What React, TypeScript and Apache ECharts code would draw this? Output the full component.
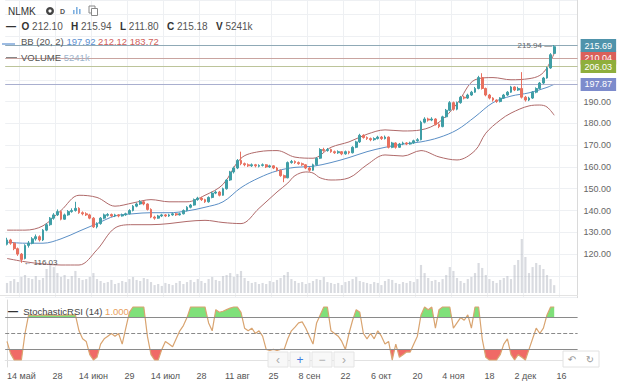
import React, { useEffect, useRef } from "react";
import * as echarts from "echarts";

// ---------- DATA ----------
// candles: [open, close, low, high]
const ohlc: number[][] = [
  [124.5, 126.5, 124, 127.5], [126.5, 125, 124.3, 127], [125, 122.5, 121.8, 125.5], [122.5, 120, 119.2, 123],
  [120, 117.5, 116.03, 120.5], [118, 124, 117.6, 124.5], [124, 125, 123, 126], [125, 127, 124.5, 127.8],
  [127, 128, 126.2, 129], [128, 126.5, 125.8, 128.6], [126.5, 131, 126, 131.5], [131, 133.5, 130.5, 134.2],
  [133.5, 136.5, 133, 137], [136.5, 138, 135.8, 138.8], [138, 139.5, 137.5, 140.5], [139.5, 136, 135.5, 140],
  [136, 138, 135.8, 138.6], [138, 139.5, 137.6, 140.2], [139.5, 140, 139, 141], [140, 141, 139.5, 144],
  [141, 139, 138.5, 141.5], [139, 138.5, 137.8, 139.6], [138.5, 138, 137.5, 139.2], [138, 136.5, 136, 138.5],
  [136.5, 132.5, 132, 137], [132.5, 134, 131.8, 134.6], [134, 136.5, 133.5, 137], [136.5, 138, 136, 138.6],
  [137.8, 138.2, 137.2, 138.8], [138.2, 137.5, 137, 138.6], [137.5, 138, 137, 138.5], [138, 137.5, 136.9, 138.4],
  [137.5, 138, 137.2, 138.6], [138, 138.5, 137.6, 139], [138.5, 140, 138.2, 140.6], [140, 142, 139.6, 142.5],
  [142, 143, 141.5, 143.6], [143, 144, 142.6, 144.8], [144, 143, 142.4, 144.5], [143, 140.5, 140, 143.3],
  [140.5, 137, 136.5, 141], [137, 136.5, 135.8, 137.6], [136.5, 137.5, 136.2, 138], [137.5, 138, 137, 138.5],
  [138, 137.5, 137, 138.4], [137.5, 138, 137.1, 138.5], [138, 138.5, 137.6, 139], [138.5, 138, 137.5, 138.9],
  [138, 138.5, 137.7, 139], [138.5, 140, 138.2, 140.5], [140, 141.5, 139.6, 142], [141.5, 142.5, 141, 143],
  [142.5, 145, 142.2, 145.5], [145, 145.7, 144.5, 146.3], [145.7, 145, 144.4, 146.2], [145, 144, 143.5, 145.4],
  [144, 146, 143.6, 146.5], [146, 148, 145.6, 148.6], [148, 148.5, 147.5, 149.2], [148.5, 147, 146.5, 149],
  [147, 150, 146.8, 150.5], [150, 154, 149.6, 154.5], [154, 157.7, 153.6, 158.2], [157.7, 159.5, 157, 160.2],
  [159.5, 163, 159, 163.6], [163, 161.5, 160.8, 167], [161.5, 161, 160.3, 162], [161, 160.5, 160, 161.6],
  [160.5, 161, 160, 161.6], [161, 160.5, 159.8, 161.4], [160.3, 160.7, 159.8, 161.2], [160.7, 161, 160.2, 161.6],
  [161, 160, 159.5, 161.3], [160, 160.5, 159.6, 161], [160.5, 159.5, 159, 160.8], [159.5, 158.5, 158, 160],
  [158.5, 156, 155.5, 158.8], [156, 155, 153, 156.5], [155, 162, 154.8, 162.5], [162, 162.5, 161.5, 163.2],
  [162.5, 162, 161.4, 163], [162, 161.5, 161, 162.5], [161.5, 161, 160.5, 162], [161, 159.5, 159, 161.3],
  [159.5, 158.5, 157.8, 160], [158.5, 161, 158.2, 161.5], [161, 164, 160.6, 164.5], [164, 168, 163.6, 168.6],
  [168, 167.5, 167, 168.8], [167.5, 168, 167, 168.7], [168, 167, 166.5, 168.4], [167, 166.5, 166, 167.5],
  [166.5, 167, 166, 167.6], [167, 166, 165.4, 167.3], [166, 167, 165.6, 167.5], [167, 166.5, 165.8, 167.4],
  [166.5, 169, 166.2, 169.5], [169, 171.5, 168.6, 172], [171.5, 174.5, 171, 175.2], [174.5, 173.5, 173, 175],
  [173.5, 173, 172.4, 174], [173, 172.5, 171.8, 173.5], [172.5, 173, 172, 173.6], [173, 173.7, 172.6, 174.3],
  [173.7, 173, 172.4, 174.2], [173, 173.7, 172.6, 174.4], [173.7, 169, 168.5, 174], [169, 171, 168.6, 171.5],
  [171, 169, 168.4, 171.3], [169, 170.5, 168.8, 171], [170.5, 171, 170, 171.6], [171, 170.5, 170, 171.4],
  [170.5, 171, 170.2, 171.6], [171, 172, 170.6, 172.5], [172, 172.5, 171.6, 173.2], [172.5, 180.5, 172.2, 181.2],
  [180.5, 182, 180, 182.8], [182, 181.5, 180.8, 182.6], [181.5, 182, 181, 182.8], [182, 179.5, 179, 182.4],
  [179.5, 178.5, 177.8, 180], [178.5, 183, 178.2, 183.5], [183, 186, 182.6, 186.6], [186, 189.5, 185.6, 190.2],
  [189.5, 186.5, 185.8, 190], [186.5, 189.5, 186, 190], [189.5, 192, 189, 192.6], [192, 191.6, 191, 192.7],
  [191.6, 193, 191.2, 193.6], [193, 194.3, 192.6, 194.9], [194.3, 196, 194, 196.7], [196, 201, 195.6, 201.8],
  [201, 196, 195.5, 203], [196, 193, 192.4, 196.4], [193, 191.6, 191, 193.5], [191.6, 190.7, 190, 192],
  [190.7, 190, 189.4, 191], [190, 191.6, 189.6, 192], [191.6, 193, 191.2, 193.5], [193, 194.3, 192.6, 194.8],
  [194.3, 196.7, 194, 197.2], [196.7, 195.3, 194.8, 197], [195.3, 196, 194.9, 196.8], [196, 192, 191.4, 203.5],
  [192, 190.7, 190, 192.6], [190.7, 191.6, 190.2, 192.2], [191.6, 194.3, 191.2, 194.8], [194.3, 196, 193.8, 196.5],
  [196, 198.5, 195.6, 199], [198.5, 200.8, 198, 201.3], [200.8, 205.4, 200.5, 206], [205.4, 211.5, 205, 212.2],
  [212.1, 215.18, 211.8, 215.94],
];

// volume, thousands of shares
const volumes: number[] = [
  6700, 8000, 9300, 7300, 10700,
  12000, 10000, 9300, 11300, 8700, 10000,
  16000, 20000, 17300, 13300,
  10700, 12000, 9300, 11300, 14700, 10000,
  8700, 9300, 10700, 13300, 9300, 8000, 6700, 7300, 8700, 6000,
  6700, 8000, 7300, 9300, 10700, 8700, 8000, 10000, 9300, 7300,
  5300, 6000, 4700, 6700, 6000, 5300, 6700, 8000, 6000, 7300,
  8700, 7300, 9300, 8000, 6700, 9300, 10700, 8700, 8000, 11300,
  12000, 13300, 10700, 12700, 14700, 10000, 8000, 6700, 7300, 6000,
  6700, 6000, 8000, 7300, 8700, 10000, 12000, 14000, 9300, 8000,
  6700, 7300, 6000, 6700, 8000, 9300, 8700, 10700, 7300, 6700,
  6000, 6700, 5300, 7300, 8000, 9300, 10700, 8000, 7300, 6700,
  6000, 7300, 6700, 5300, 8000, 9300, 8700, 6700, 6000, 7300,
  6700, 8000, 7300, 9300, 18700, 13300, 10000, 8000, 8700, 7300,
  9300, 12000, 17300, 14700, 10000, 8000, 6700, 9300, 10700, 13300,
  20000, 16700, 12000, 9300, 8000, 6700, 8700, 10000, 11300, 9300,
  18700, 22000, 36000, 24000, 13300, 17300, 20000, 18700, 16000, 12000, 9300, 5241,
];

// Bollinger bands (20, 2) read at candle indices
const bbUpper: number[][] = [
  [0, 131], [5, 131], [10, 133], [15, 140], [20, 147], [25, 146], [30, 142], [35, 143.5], [40, 145],
  [45, 144], [50, 144], [55, 147], [60, 152], [65, 164], [70, 167], [75, 167.5], [80, 164.5], [85, 164],
  [90, 169], [95, 171.5], [100, 175], [105, 177], [110, 176.5], [115, 177], [120, 180.5], [125, 189],
  [130, 200], [135, 201], [140, 200], [145, 200.5], [148, 202], [150, 205.5], [152, 212.12],
];
const bbMid: number[][] = [
  [0, 125.5], [5, 125], [10, 125], [15, 127], [20, 130.5], [25, 134], [30, 137.5], [35, 138.5], [40, 139],
  [45, 139], [50, 139.8], [55, 141.5], [60, 144], [65, 150.5], [70, 155], [75, 158.2], [80, 159.8],
  [85, 160.3], [90, 162], [95, 164.3], [100, 167], [105, 169], [110, 170.5], [115, 171.5], [120, 173.5],
  [125, 177], [130, 183], [135, 189.5], [140, 192.5], [145, 194], [150, 196.5], [152, 197.92],
];
const bbLower: number[][] = [
  [0, 118], [5, 116.5], [10, 115.5], [15, 115], [20, 115], [25, 122], [30, 132], [35, 133.5], [40, 133.5],
  [45, 134], [50, 135], [55, 135.5], [60, 134.5], [65, 134], [70, 141], [75, 148.5], [78, 152.6], [80, 156],
  [83, 157.7], [85, 157.2], [87, 155], [90, 154], [95, 155], [100, 161], [105, 165.5], [110, 165],
  [115, 167.5], [120, 164.6], [125, 163.2], [130, 167.5], [133, 175.5], [137, 181.5], [140, 184.7],
  [145, 188], [148, 188.4], [150, 187.5], [152, 183.72],
];

// Stochastic RSI (14) read at candle indices
const stochRsi: number[][] = [
  [0, 0.35], [1, 0.12], [2, 0], [3, 0], [4, 0], [5, 0.5], [6, 0.85], [8, 0.84], [11, 0.85], [14, 0.84],
  [17, 0.85], [19, 0.85], [20, 0.55], [21, 0.4], [22, 0.35], [23, 0.1], [24, 0], [25, 0.05], [26, 0.3],
  [27, 0.4], [28, 0.45], [29, 0.5], [30, 0.45], [31, 0.5], [32, 0.3], [33, 0.6], [34, 0.9], [35, 1],
  [36, 1], [37, 1], [38, 1], [39, 0.45], [40, 0.1], [41, 0], [42, 0], [43, 0.2], [44, 0.35], [45, 0.3],
  [46, 0.25], [47, 0.4], [48, 0.55], [49, 0.65], [50, 0.8], [51, 1], [52, 1], [53, 1], [54, 1], [55, 1],
  [56, 0.7], [57, 0.55], [58, 0.95], [59, 0.9], [60, 0.92], [61, 0.95], [62, 0.98], [63, 1], [64, 1],
  [65, 0.9], [66, 0.6], [67, 0.55], [68, 0.6], [69, 0.5], [70, 0.55], [71, 0.45], [72, 0.2], [73, 0.18],
  [74, 0.2], [75, 0.18], [76, 0.2], [77, 0.2], [78, 0.4], [79, 0.55], [80, 0.62], [81, 0.7], [82, 0.72],
  [83, 0.6], [84, 0.45], [85, 0.3], [86, 0.7], [87, 0.85], [88, 1], [89, 1], [90, 0.55], [91, 0.5],
  [92, 0.45], [93, 0.35], [94, 0.2], [95, 0.5], [96, 0.75], [97, 0.95], [98, 0.9], [99, 0.5], [100, 0.4],
  [101, 0.5], [102, 0.4], [103, 0.55], [104, 0.45], [105, 0.3], [106, 0.35], [107, 0], [108, 0.3],
  [109, 0.05], [110, 0.1], [111, 0.15], [112, 0.15], [113, 0.3], [114, 0.45], [115, 0.85], [116, 1],
  [117, 0.95], [118, 1], [119, 0.6], [120, 0.95], [121, 1], [122, 1], [123, 1], [124, 0.6], [125, 0.7],
  [126, 0.8], [127, 0.75], [128, 0.85], [129, 0.6], [130, 1], [131, 1], [132, 0.4], [133, 0.05], [134, 0],
  [135, 0], [136, 0], [137, 0.1], [138, 0.3], [139, 0.4], [140, 0.1], [141, 0], [142, 0.1], [143, 0.05],
  [144, 0], [145, 0.2], [146, 0.4], [147, 0.6], [148, 0.5], [149, 0.6], [150, 0.85], [151, 1], [152, 1],
];

const tickIndex = [4, 14, 24, 34, 44, 54, 64, 74, 84, 94, 104, 114, 124, 134, 144, 154];
const tickLabels = ["14 май", "28", "14 июн", "29", "14 июл", "28", "11 авг", "25", "8 сен", "22", "6 окт", "20", "4 ноя", "18", "2 дек", "16"];

const priceLevels = [
  { value: 210.04, box: "#d9605a", line: "#c9a4a0" },
  { value: 215.69, box: "#4f93ab", line: "#8fa9b6" },
  { value: 206.03, box: "#8fae3c", line: "#bcc49a" },
  { value: 197.87, box: "#7d8bcc", line: "#a9afcf" },
];

const lastHigh = 215.94;
const periodLow = 116.03;
const stochLast = "1.000";
const TOTAL_SLOTS = 159;

// ---------- STYLE ----------
const FONT = "'Liberation Sans', Arial, sans-serif";
const UP = "#3f9ea6";
const DOWN = "#e8705f";
const GL = 5.2;
const GR = 42.4;

function clipFill(pts: number[][], thr: number, above: boolean) {
  const out: number[][] = [];
  for (let k = 0; k < pts.length; k++) {
    const [x, v] = pts[k];
    if (k > 0) {
      const [px, pv] = pts[k - 1];
      if ((pv - thr) * (v - thr) < 0) {
        const t = (thr - pv) / (v - pv);
        out.push([px + t * (x - px), thr]);
      }
    }
    out.push([x, above ? Math.max(v, thr) : Math.min(v, thr)]);
  }
  return out;
}

function txt(x: number, y: number, text: string, fill: string, size = 10, weight = "normal", extra: any = {}) {
  return {
    type: "text", x, y, silent: true, z: 100,
    style: { text, fill, fontSize: size, fontWeight: weight, fontFamily: FONT, verticalAlign: "middle", ...extra },
  };
}

function buildOption() {
  const cats = Array.from({ length: TOTAL_SLOTS }, (_, i) => String(i));
  const tickSet = new Set(tickIndex);
  const labelMap: Record<number, string> = {};
  tickIndex.forEach((t, k) => (labelMap[t] = tickLabels[k]));

  const bbLine = (name: string, data: number[][], color: string) => ({
    name, type: "line", xAxisIndex: 0, yAxisIndex: 0, data, smooth: 0.35, showSymbol: false, silent: true,
    lineStyle: { color, width: 1 }, z: 2,
  });

  const graphic: any[] = [
    txt(8, 11, "NLMK", "#333", 10),
    { type: "ring", z: 100, silent: true, shape: { cx: 50, cy: 11, r: 4, r0: 1.6 }, style: { fill: "#444" } },
    txt(60, 11.5, "D", "#555", 7, "bold"),
    { type: "rect", z: 100, silent: true, shape: { x: 73, y: 10, width: 1.6, height: 4 }, style: { fill: "#7fb0e0" } },
    { type: "rect", z: 100, silent: true, shape: { x: 76, y: 7, width: 1.6, height: 7 }, style: { fill: "#7fb0e0" } },
    { type: "rect", z: 100, silent: true, shape: { x: 79, y: 9, width: 1.6, height: 5 }, style: { fill: "#7fb0e0" } },
    { type: "rect", z: 100, silent: true, shape: { x: 89, y: 6, width: 6, height: 7 }, style: { fill: "none", stroke: "#888", lineWidth: 1 } },
    { type: "rect", z: 100, silent: true, shape: { x: 91.5, y: 8.5, width: 6, height: 7 }, style: { fill: "#fff", stroke: "#888", lineWidth: 1 } },
    {
      type: "text", x: 6, y: 26.5, z: 100, silent: true,
      style: {
        text: "{d|—}  {k|O} {v|212.10}   {k|H} {v|215.94}   {k|L} {v|211.80}   {k|C} {v|215.18}   {k|V} {v|5241k}",
        verticalAlign: "middle", fontFamily: FONT, fontSize: 10,
        rich: {
          d: { fill: "#333", fontWeight: "bold", fontSize: 10, fontFamily: FONT },
          k: { fill: "#333", fontWeight: "bold", fontSize: 10, fontFamily: FONT },
          v: { fill: "#555", fontSize: 10, fontFamily: FONT },
        },
      },
    },
    { type: "line", z: 100, silent: true, shape: { x1: 2, y1: 44, x2: 15, y2: 44 }, style: { stroke: "#5b8fd0", lineWidth: 1.2 } },
    {
      type: "text", x: 21, y: 41.5, z: 100, silent: true,
      style: {
        text: "{g|BB (20, 2)} {b|197.92} {r|212.12} {r|183.72}",
        verticalAlign: "middle", fontFamily: FONT, fontSize: 9.5,
        rich: {
          g: { fill: "#555", fontSize: 9.5, fontFamily: FONT },
          b: { fill: "#5b8fd0", fontSize: 9.5, fontFamily: FONT },
          r: { fill: "#d0605a", fontSize: 9.5, fontFamily: FONT },
        },
      },
    },
    { type: "line", z: 100, silent: true, shape: { x1: 6, y1: 57.5, x2: 17, y2: 57.5 }, style: { stroke: "#888", lineWidth: 1 } },
    {
      type: "text", x: 21, y: 57.5, z: 100, silent: true,
      style: {
        text: "{g|VOLUME} {l|5241k}",
        verticalAlign: "middle", fontFamily: FONT, fontSize: 9.5,
        rich: {
          g: { fill: "#555", fontSize: 9.5, fontFamily: FONT },
          l: { fill: "#9db4cc", fontSize: 9.5, fontFamily: FONT },
        },
      },
    },
    { type: "line", z: 50, silent: true, shape: { x1: 0, y1: 295.5, x2: 578, y2: 295.5 }, style: { stroke: "#e3e3e3", lineWidth: 1 } },
    {
      type: "text", x: 8, y: 311, z: 100, silent: true,
      style: {
        text: "{d|—}  {t|StochasticRSI (14)} {o|" + stochLast + "}",
        verticalAlign: "middle", fontFamily: FONT, fontSize: 9.5,
        rich: {
          d: { fill: "#333", fontWeight: "bold", fontSize: 10, fontFamily: FONT },
          t: { fill: "#444", fontSize: 9.5, fontFamily: FONT },
          o: { fill: "#e8a060", fontSize: 9.5, fontFamily: FONT },
        },
      },
    },
  ];
  const btns = [
    { x: 268, t: "‹", c: "#aaa" },
    { x: 290, t: "+", c: "#3d7be0" },
    { x: 312, t: "−", c: "#aaa" },
    { x: 334, t: "›", c: "#aaa" },
  ];
  btns.forEach((b) => {
    graphic.push({ type: "rect", z: 100, silent: true, shape: { x: b.x, y: 352, width: 20, height: 15 }, style: { fill: "#f8f8f8", stroke: "#e4e4e4", lineWidth: 1 } });
    graphic.push(txt(b.x + 10, 359.5, b.t, b.c, 12, "normal", { align: "center" }));
  });
  graphic.push({ type: "rect", z: 100, silent: true, shape: { x: 563, y: 351, width: 36, height: 16 }, style: { fill: "#fff", stroke: "#e2e2e2", lineWidth: 1 } });
  graphic.push({ ...txt(572, 359, "↶", "#999", 10, "normal", { align: "center", fontFamily: "DejaVu Sans" }) });
  graphic.push({ ...txt(590, 359, "↻", "#999", 10, "normal", { align: "center", fontFamily: "DejaVu Sans" }) });

  return {
    animation: false,
    backgroundColor: "#ffffff",
    textStyle: { fontFamily: FONT },
    grid: [
      { left: GL, right: GR, top: 0, height: 297.7 },
      { left: GL, right: GR, top: 233, height: 60 },
      { left: GL, right: GR, top: 300, height: 67 },
    ],
    xAxis: [
      {
        type: "category", gridIndex: 0, data: cats, boundaryGap: true,
        axisLine: { show: false }, axisTick: { show: false }, axisLabel: { show: false },
        splitLine: { show: true, interval: (i: number) => tickSet.has(i), lineStyle: { color: "#eef0f3" } },
      },
      { type: "category", gridIndex: 1, data: cats, boundaryGap: true, show: false },
      {
        type: "category", gridIndex: 2, data: cats, boundaryGap: true,
        axisLine: { show: true, lineStyle: { color: "#e2e2e2" } }, axisTick: { show: false },
        axisLabel: {
          interval: (i: number) => tickSet.has(i),
          formatter: (_v: string, i: number) => labelMap[i] || "",
          fontSize: 9, color: "#555", margin: 4, fontFamily: FONT,
        },
        splitLine: { show: false },
      },
      { type: "value", gridIndex: 2, min: -0.5, max: TOTAL_SLOTS - 0.5, show: false },
    ],
    yAxis: [
      {
        type: "value", gridIndex: 0, position: "right", min: 100, max: 236.6, interval: 10, scale: true,
        axisLine: { show: true, lineStyle: { color: "#dadada" } }, axisTick: { show: false },
        axisLabel: {
          formatter: (v: number) => (v >= 120 && v <= 190 ? v.toFixed(2) : ""),
          fontSize: 9, color: "#666", margin: 6, fontFamily: FONT, showMaxLabel: false,
        },
        splitLine: { lineStyle: { color: "#eef0f3" } },
      },
      { type: "value", gridIndex: 1, min: 0, max: 40000, show: false },
      {
        type: "value", gridIndex: 2, position: "right", min: -0.132, max: 1.132,
        axisLine: { show: true, lineStyle: { color: "#dadada" } }, axisTick: { show: false },
        axisLabel: { show: false }, splitLine: { show: false },
      },
    ],
    series: [
      {
        name: "Volume", type: "bar", xAxisIndex: 1, yAxisIndex: 1, data: volumes, barWidth: "60%", silent: true,
        itemStyle: { color: "rgba(170,176,186,0.45)" }, z: 1,
      },
      bbLine("BB upper", bbUpper, "#b06a6a"),
      bbLine("BB basis", bbMid, "#5b8fc6"),
      bbLine("BB lower", bbLower, "#b06a6a"),
      {
        name: "NLMK", type: "candlestick", xAxisIndex: 0, yAxisIndex: 0, data: ohlc, barWidth: "62%", z: 5,
        itemStyle: { color: UP, color0: DOWN, borderColor: UP, borderColor0: DOWN, borderWidth: 1 },
        markLine: {
          silent: true, symbol: ["none", "none"], animation: false,
          data: priceLevels.map((p) => ({
            yAxis: p.value,
            lineStyle: { color: p.line, width: 1, type: "solid" },
            label: {
              show: true, position: "end", formatter: p.value.toFixed(2), backgroundColor: p.box, color: "#fff",
              padding: [2, 4, 2, 4], fontSize: 9, distance: 3, fontFamily: FONT,
            },
          })),
        },
        markPoint: {
          symbol: "circle", symbolSize: 0, silent: true, animation: false,
          data: [
            { coord: ["152", lastHigh], label: { show: true, position: "left", formatter: lastHigh.toFixed(2) + " —", color: "#666", fontSize: 8, distance: 2, fontFamily: FONT } },
            { coord: ["4", periodLow], label: { show: true, position: "right", formatter: "← " + periodLow.toFixed(2), color: "#555", fontSize: 8, distance: 2, fontFamily: FONT } },
          ],
        },
      },
      {
        name: "StochUp", type: "line", xAxisIndex: 3, yAxisIndex: 2, data: clipFill(stochRsi, 0.8, true),
        showSymbol: false, silent: true, lineStyle: { width: 0 }, areaStyle: { origin: 0.8, color: "#7fe07a", opacity: 1 }, z: 2,
      },
      {
        name: "StochDown", type: "line", xAxisIndex: 3, yAxisIndex: 2, data: clipFill(stochRsi, 0.2, false),
        showSymbol: false, silent: true, lineStyle: { width: 0 }, areaStyle: { origin: 0.2, color: "#f06a66", opacity: 1 }, z: 2,
      },
      {
        name: "StochasticRSI", type: "line", xAxisIndex: 3, yAxisIndex: 2, data: stochRsi, showSymbol: false, silent: true,
        lineStyle: { color: "#d9a470", width: 1.2 }, z: 3,
        markLine: {
          silent: true, symbol: ["none", "none"], animation: false,
          label: { show: false },
          data: [
            { yAxis: 0.8, lineStyle: { color: "#8a8a8a", width: 1.2, type: "solid" } },
            { yAxis: 0.5, lineStyle: { color: "#8a8a8a", width: 1, type: "dashed" } },
            { yAxis: 0.2, lineStyle: { color: "#8a8a8a", width: 1.2, type: "solid" } },
            { yAxis: 0.6, lineStyle: { opacity: 0 }, label: { show: true, position: "end", formatter: "0.60", color: "#777", fontSize: 8.5, distance: 5, fontFamily: FONT } },
            { yAxis: 0.3, lineStyle: { opacity: 0 }, label: { show: true, position: "end", formatter: "0.30", color: "#777", fontSize: 8.5, distance: 5, fontFamily: FONT } },
            { yAxis: 1.0, lineStyle: { opacity: 0 }, label: { show: true, position: "end", formatter: "1.00", color: "#fff", backgroundColor: "#e3892f", padding: [2, 9, 2, 5], fontSize: 9, distance: 3, fontFamily: FONT } },
          ],
        },
      },
    ],
    graphic,
  };
}

export default function App() {
  const ref = useRef<HTMLDivElement>(null);
  useEffect(() => {
    if (!ref.current) return;
    const chart = echarts.init(ref.current, undefined, { renderer: "svg" });
    chart.setOption(buildOption() as any);
    return () => chart.dispose();
  }, []);
  return <div ref={ref} style={{ position: "absolute", left: 0, top: 0, width: 620, height: 390, background: "#fff" }} />;
}
